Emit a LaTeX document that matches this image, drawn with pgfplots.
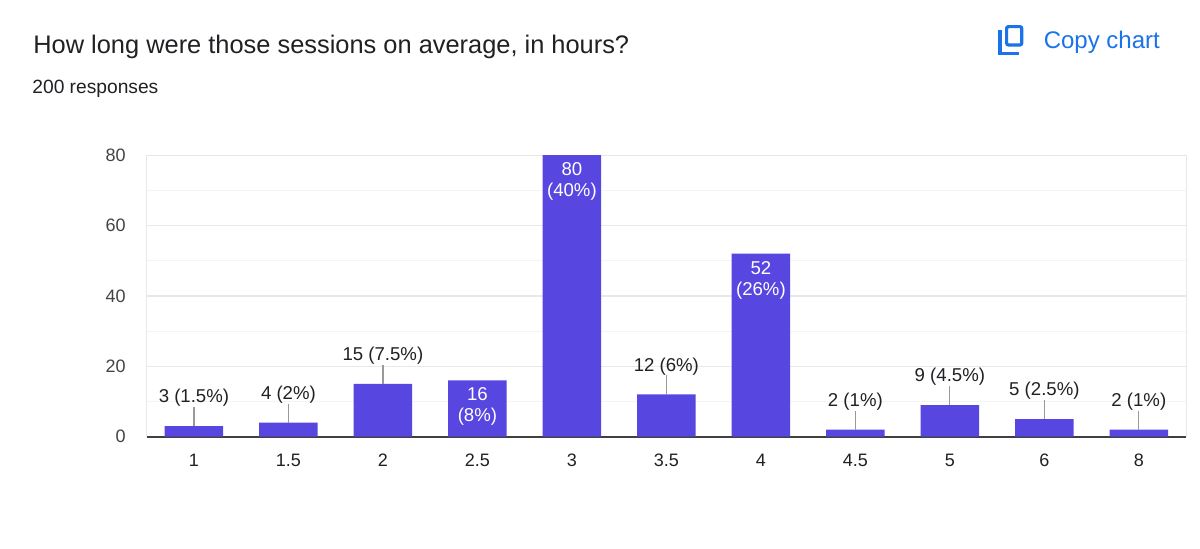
\documentclass[border=0pt]{standalone}
\usepackage{pgfplots}
\pgfplotsset{compat=1.18}
\usepackage{pgfplotstable}
\usepackage{fontspec}
\setmainfont{Liberation Sans}

\definecolor{barcol}{RGB}{87,70,224}
\definecolor{linkblue}{RGB}{26,115,232}
\definecolor{titlecol}{RGB}{32,33,36}
\definecolor{ticktext}{RGB}{68,68,68}
\definecolor{gridmaj}{RGB}{232,232,232}
\definecolor{gridmin}{RGB}{244,244,244}

% responses per answer (1, 1.5, 2, 2.5, 3, 3.5, 4, 4.5, 5, 6, 8 hours)
\pgfplotstableread[col sep=comma]{
x,y
0,3
1,4
2,15
3,16
4,80
5,12
6,52
7,2
8,9
9,5
10,2
}\bars

% labels above the short bars, with a leader line
\pgfplotstableread[col sep=comma]{
x,y,e,lab
0,3,5.4,3 (1.5\%)
1,4,5.4,4 (2\%)
2,15,5.4,15 (7.5\%)
5,12,5.4,12 (6\%)
7,2,5.4,2 (1\%)
8,9,5.4,9 (4.5\%)
9,5,5.4,5 (2.5\%)
10,2,5.4,2 (1\%)
}\outside

% labels inside the tall bars
\pgfplotstableread[col sep=comma]{
x,y,lab
3,16,{16\\(8\%)}
4,80,{80\\(40\%)}
6,52,{52\\(26\%)}
}\inside

\begin{document}
\begin{tikzpicture}
\fill[white] (0,0) rectangle (600pt,274pt);
\path[use as bounding box] (0,0) rectangle (600pt,274pt);

\node[anchor=base west, inner sep=0pt, font=\fontsize{12.7}{15}\selectfont, text=titlecol]
  at (16.5pt,247.3pt) {How long were those sessions on average, in hours?};
\node[anchor=base west, inner sep=0pt, font=\fontsize{9.6}{11}\selectfont, text=titlecol]
  at (16pt,227.3pt) {200 responses};
\node[anchor=base west, inner sep=0pt, font=\fontsize{12}{14}\selectfont, text=linkblue]
  at (521.7pt,249.8pt) {Copy chart};
\draw[linkblue, line width=1.6pt, rounded corners=1pt] (503.3pt,251.5pt) rectangle (510.9pt,260.7pt);
\draw[linkblue, line width=1.6pt] (500pt,259pt) -- (500pt,247.4pt) -- (509.5pt,247.4pt);

\begin{axis}[
  at={(73.35pt,55.65pt)}, anchor=south west,
  scale only axis, width=519.7pt, height=140.8pt,
  xmin=-0.5, xmax=10.5, ymin=0, ymax=80,
  xtick={0,...,10},
  xticklabels={1,1.5,2,2.5,3,3.5,4,4.5,5,6,8},
  ytick={0,20,...,80}, minor ytick={10,30,50,70},
  ymajorgrids, yminorgrids,
  major grid style={gridmaj, line width=0.6pt},
  minor grid style={gridmin, line width=0.6pt},
  major tick length=0pt, minor tick length=0pt,
  axis x line*=bottom, axis y line*=left,
  separate axis lines,
  x axis line style={black!75, line width=0.9pt},
  y axis line style={gridmaj, line width=0.6pt},
  extra x ticks={10.5}, extra x tick labels={},
  extra x tick style={xmajorgrids=true, major grid style={gridmaj, line width=0.6pt}},
  tick label style={font=\fontsize{9}{10}\selectfont},
  yticklabel style={text=ticktext, xshift=-7pt},
  xticklabel style={text=titlecol, yshift=-5pt},
  /pgf/number format/assume math mode=true,
  clip=false,
]

\addplot[ybar, bar width=29.25pt, fill=barcol, draw=none] table[x=x, y=y] {\bars};

\addplot[draw=none, mark=none, point meta=explicit symbolic,
  nodes near coords,
  nodes near coords style={anchor=center, yshift=14pt, inner sep=0pt,
    font=\fontsize{9.3}{11}\selectfont, text=titlecol},
  error bars/.cd, y dir=plus, y explicit, error mark=none,
  error bar style={draw=black!40, line width=0.6pt}]
  table[x=x, y=y, y error=e, meta=lab] {\outside};

\addplot[draw=none, mark=none, point meta=explicit symbolic,
  nodes near coords,
  nodes near coords style={anchor=north, yshift=-3.5pt, inner sep=0pt, align=center,
    font=\fontsize{9.3}{10.5}\selectfont, text=white}]
  table[x=x, y=y, meta=lab] {\inside};

\end{axis}
\end{tikzpicture}
\end{document}
